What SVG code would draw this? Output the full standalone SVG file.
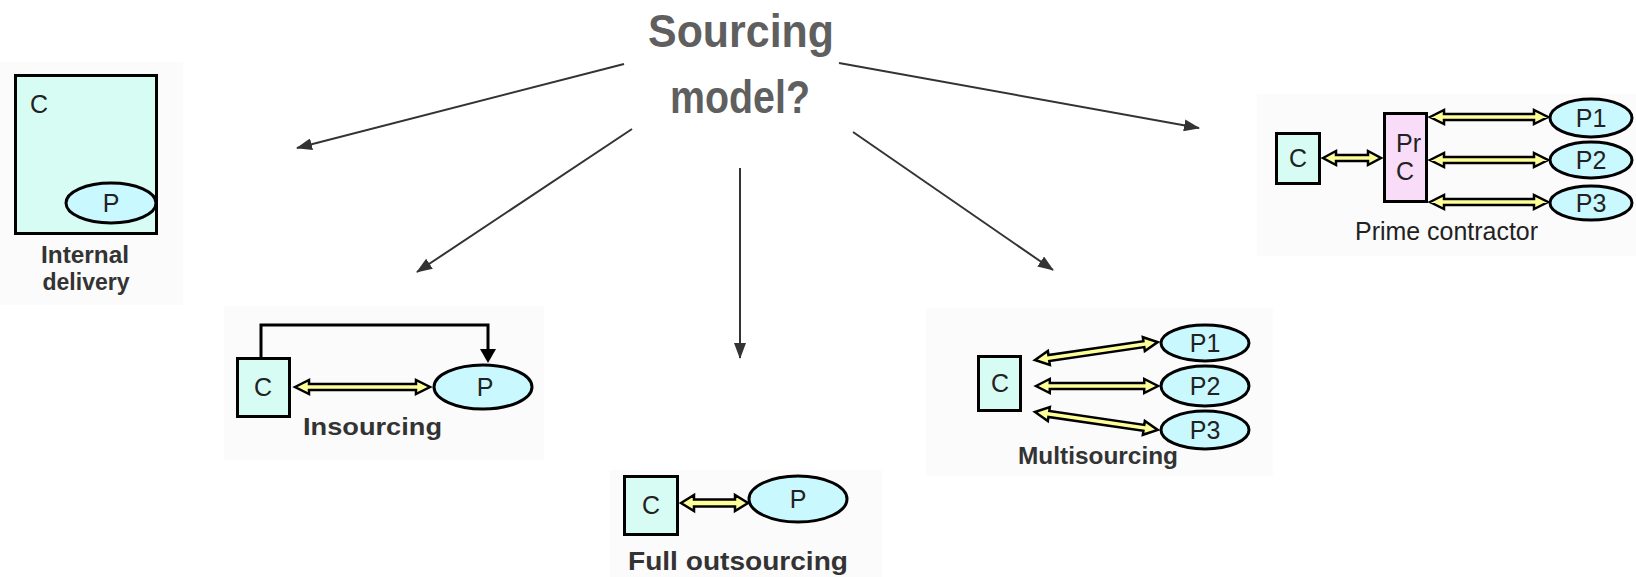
<svg xmlns="http://www.w3.org/2000/svg" width="1636" height="577" viewBox="0 0 1636 577">
  <defs>
    <style>
      .panel { fill: #fbfbfb; stroke: none; }
      .cbox { fill: #d6fcf3; stroke: #000; stroke-width: 3; }
      .prc { fill: #f9dcf8; stroke: #000; stroke-width: 3; }
      .prov { fill: #c9f8ff; stroke: #000; stroke-width: 3; }
      .dbl { fill: #ffff99; stroke: #000; stroke-width: 2.5; stroke-linejoin: miter; }
      .lbl { font-family: "Liberation Sans", Arial, sans-serif; font-size: 25px; fill: #222; }
      .cap { font-family: "Liberation Sans", Arial, sans-serif; font-weight: bold; fill: #333; }
      .title { font-family: "Liberation Sans", Arial, sans-serif; font-weight: bold; font-size: 46px; fill: #5f5f5f; text-anchor: middle; }
      .link { stroke: #333; stroke-width: 2; fill: none; marker-end: url(#tip); }
    </style>
    <marker id="tip" viewBox="0 0 16 12" refX="15" refY="6" markerWidth="16" markerHeight="12" markerUnits="userSpaceOnUse" orient="auto">
      <path d="M0,0 L16,6 L0,12 Z" fill="#333"/>
    </marker>
    <!-- double-headed block arrow, 124 long, drawn along +x from the origin -->
    <polygon id="dbl124" points="0,0 14,-7 14,-3 110,-3 110,-7 124,0 110,7 110,3 14,3 14,7"/>
  </defs>

  <rect width="1636" height="577" fill="#ffffff"/>

  <!-- faint panels behind each model -->
  <rect class="panel" x="0" y="62" width="183" height="243"/>
  <rect class="panel" x="224" y="306" width="320" height="154"/>
  <rect class="panel" x="610" y="470" width="272" height="107"/>
  <rect class="panel" x="926" y="308" width="347" height="168"/>
  <rect class="panel" x="1257" y="94" width="379" height="162"/>

  <!-- title -->
  <g id="title">
    <text class="title" x="741" y="47" textLength="186" lengthAdjust="spacingAndGlyphs">Sourcing</text>
    <text class="title" x="740" y="113" textLength="140" lengthAdjust="spacingAndGlyphs">model?</text>
  </g>

  <!-- connectors from the title to each model -->
  <g id="connectors">
    <line class="link" x1="624" y1="64" x2="297" y2="148"/>
    <line class="link" x1="632" y1="129" x2="417" y2="272"/>
    <line class="link" x1="740" y1="168" x2="740" y2="358"/>
    <line class="link" x1="853" y1="132" x2="1053" y2="270"/>
    <line class="link" x1="839" y1="63" x2="1199" y2="128"/>
  </g>

  <!-- internal delivery -->
  <g id="internal-delivery">
    <rect class="cbox" x="15.5" y="75.5" width="141" height="158"/>
    <text class="lbl" x="30" y="113">C</text>
    <ellipse class="prov" cx="111" cy="203" rx="45" ry="20"/>
    <text class="lbl" x="111" y="212" text-anchor="middle">P</text>
    <text class="cap" font-size="23" x="85" y="263" text-anchor="middle" textLength="88" lengthAdjust="spacingAndGlyphs">Internal</text>
    <text class="cap" font-size="23" x="86" y="290" text-anchor="middle" textLength="87" lengthAdjust="spacingAndGlyphs">delivery</text>
  </g>

  <!-- insourcing -->
  <g id="insourcing">
    <polyline points="261,357 261,325 488,325 488,350" fill="none" stroke="#000" stroke-width="3"/>
    <path d="M480,349 L496,349 L488,363 Z" fill="#000"/>
    <rect class="cbox" x="237.5" y="358.5" width="52" height="58"/>
    <text class="lbl" x="263" y="396" text-anchor="middle">C</text>
    <polygon class="dbl" points="295,387 309,380 309,384 416,384 416,380 430,387 416,394 416,390 309,390 309,394"/>
    <ellipse class="prov" cx="483" cy="387" rx="49" ry="22"/>
    <text class="lbl" x="485" y="396" text-anchor="middle">P</text>
    <text class="cap" font-size="24" x="303" y="435" textLength="139" lengthAdjust="spacingAndGlyphs">Insourcing</text>
  </g>

  <!-- full outsourcing -->
  <g id="full-outsourcing">
    <rect class="cbox" x="624.5" y="476.5" width="53" height="58"/>
    <text class="lbl" x="651" y="514" text-anchor="middle">C</text>
    <polygon class="dbl" points="681,503 694,495 694,499.5 735,499.5 735,495 748,503 735,511 735,506.5 694,506.5 694,511"/>
    <ellipse class="prov" cx="798" cy="499" rx="49" ry="23"/>
    <text class="lbl" x="798" y="508" text-anchor="middle">P</text>
    <text class="cap" font-size="26" x="628" y="570" textLength="220" lengthAdjust="spacingAndGlyphs">Full outsourcing</text>
  </g>

  <!-- multisourcing -->
  <g id="multisourcing">
    <rect class="cbox" x="978.5" y="356.5" width="42" height="54"/>
    <text class="lbl" x="1000" y="392" text-anchor="middle">C</text>
    <use href="#dbl124" class="dbl" transform="translate(1035,360) rotate(-8.3)"/>
    <use href="#dbl124" class="dbl" transform="translate(1036,386) scale(0.984,1)"/>
    <use href="#dbl124" class="dbl" transform="translate(1035,412) rotate(8.3)"/>
    <ellipse class="prov" cx="1205" cy="343" rx="44" ry="18"/>
    <text class="lbl" x="1205" y="352" text-anchor="middle">P1</text>
    <ellipse class="prov" cx="1205" cy="386" rx="44" ry="20"/>
    <text class="lbl" x="1205" y="395" text-anchor="middle">P2</text>
    <ellipse class="prov" cx="1205" cy="430" rx="44" ry="19"/>
    <text class="lbl" x="1205" y="439" text-anchor="middle">P3</text>
    <text class="cap" font-size="24" x="1018" y="464" textLength="160" lengthAdjust="spacingAndGlyphs">Multisourcing</text>
  </g>

  <!-- prime contractor -->
  <g id="prime-contractor">
    <rect class="cbox" x="1276.5" y="133.5" width="43" height="50"/>
    <text class="lbl" x="1298" y="167" text-anchor="middle">C</text>
    <polygon class="dbl" points="1323,158 1336,151 1336,155 1368,155 1368,151 1381,158 1368,165 1368,161 1336,161 1336,165"/>
    <rect class="prc" x="1384.5" y="113.5" width="42" height="88"/>
    <text class="lbl" x="1396" y="152">Pr</text>
    <text class="lbl" x="1396" y="180">C</text>
    <polygon class="dbl" points="1430,117 1444,110 1444,114 1534,114 1534,110 1548,117 1534,124 1534,120 1444,120 1444,124"/>
    <polygon class="dbl" points="1430,160 1444,153 1444,157 1534,157 1534,153 1548,160 1534,167 1534,163 1444,163 1444,167"/>
    <polygon class="dbl" points="1430,202 1444,195 1444,199 1534,199 1534,195 1548,202 1534,209 1534,205 1444,205 1444,209"/>
    <ellipse class="prov" cx="1591" cy="118" rx="41" ry="19"/>
    <text class="lbl" x="1591" y="127" text-anchor="middle">P1</text>
    <ellipse class="prov" cx="1591" cy="160" rx="41" ry="18"/>
    <text class="lbl" x="1591" y="169" text-anchor="middle">P2</text>
    <ellipse class="prov" cx="1591" cy="203" rx="41" ry="17"/>
    <text class="lbl" x="1591" y="212" text-anchor="middle">P3</text>
    <text class="lbl" x="1355" y="240" textLength="183" lengthAdjust="spacingAndGlyphs">Prime contractor</text>
  </g>
</svg>
